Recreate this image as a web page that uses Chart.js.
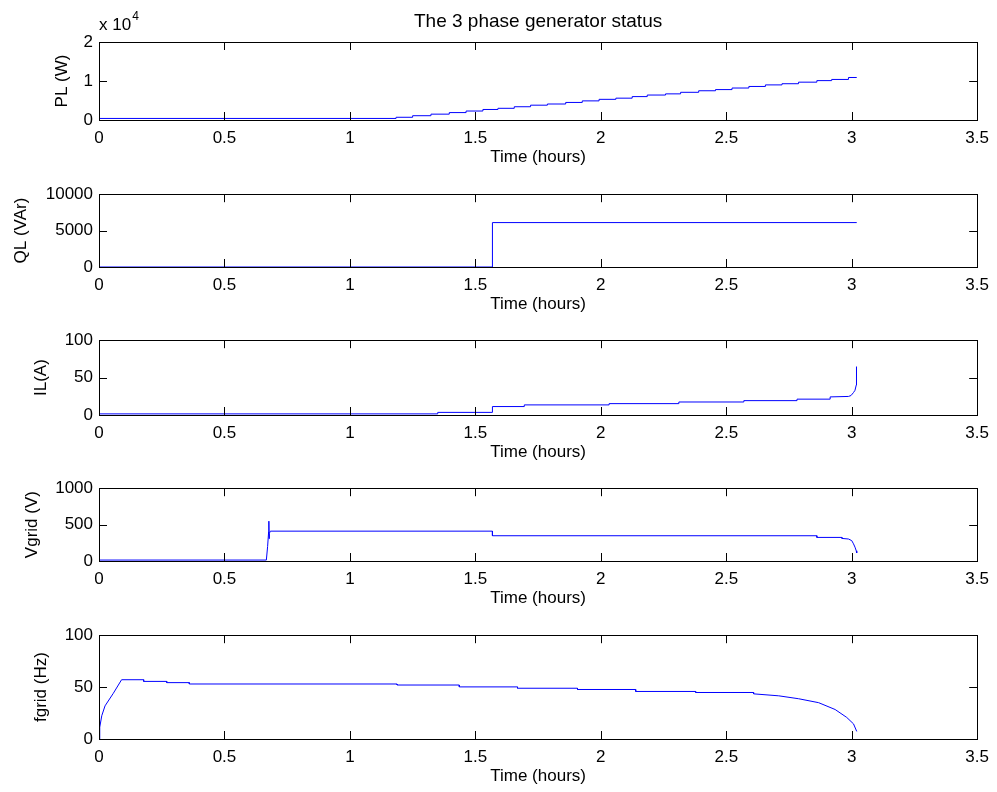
<!DOCTYPE html>
<html>
<head>
<meta charset="utf-8">
<script src="https://cdn.jsdelivr.net/npm/chart.js@4.4.0/dist/chart.umd.min.js"></script>
<style>
  body { margin: 0; background: #fff; }
  #fig { position: relative; width: 997px; height: 792px; }
  .pane { position: absolute; left: 0; width: 997px; }
</style>
</head>
<body>
<div id="fig"></div>
<script>
/*
  3 phase generator status : five stacked panels sharing the time axis
*/

// shared time axis (hours)
var timeTicks = [0, 0.5, 1, 1.5, 2, 2.5, 3, 3.5];

// PL (W) - load power, stair steps (value starts at given time)
var plTime  = [0, 1.184, 1.25, 1.323, 1.396, 1.463, 1.53, 1.59, 1.655, 1.72, 1.787, 1.86, 1.926, 1.993, 2.06, 2.125, 2.185, 2.258, 2.318, 2.39, 2.457, 2.523, 2.59, 2.656, 2.722, 2.788, 2.861, 2.92, 2.987, 3.02];
var plWatts = [400, 700, 1100, 1500, 1900, 2300, 2700, 3000, 3400, 3800, 4100, 4500, 4900, 5300, 5600, 6000, 6400, 6700, 7100, 7500, 7800, 8200, 8600, 9000, 9300, 9700, 10100, 10400, 10900, 10900];
var plTicks = [0, 10000, 20000];

// QL (VAr) - reactive load, one step
var qlTime = [0, 1.568, 3.02];
var qlVar  = [0, 6100, 6100];
var qlTicks = [0, 5000, 10000];

// IL (A) - line current
var ilTime = [0, 1.35, 1.35, 1.568, 1.568, 1.695, 1.695, 2.033, 2.033, 2.311, 2.311, 2.57, 2.57, 2.782, 2.782, 2.914, 2.914, 2.987, 2.997, 3.007, 3.013, 3.018, 3.019];
var ilAmps = [1.5, 1.5, 3.5, 3.5, 11.3, 11.3, 13.5, 13.5, 15.2, 15.2, 17.4, 17.4, 19.2, 19.2, 21.2, 21.2, 24.2, 24.8, 26, 30, 33, 40, 64.8];
var ilTicks = [0, 50, 100];

// Vgrid (V)
var vTime  = [0, 0.667, 0.672, 0.676, 0.677, 0.678, 0.679, 0.683, 1.568, 1.568, 2.861, 2.861, 2.961, 2.961, 2.987, 3.0, 3.007, 3.013, 3.018, 3.02];
var vVolts = [13, 13, 200, 400, 547, 307, 380, 410, 410, 347, 347, 324, 324, 310, 302, 280, 236, 190, 140, 110];
var vTicks = [0, 500, 1000];

// fgrid (Hz)
var fTime = [0, 0.003, 0.011, 0.024, 0.057, 0.09, 0.178, 0.178, 0.27, 0.27, 0.36, 0.36, 1.188, 1.188, 1.436, 1.436, 1.668, 1.668, 1.907, 1.907, 2.139, 2.139, 2.378, 2.378, 2.609, 2.609, 2.709, 2.788, 2.868, 2.934, 2.98, 3.007, 3.02];
var fHz   = [0, 11.4, 22.4, 31.9, 44.0, 57.1, 57.1, 55.5, 55.5, 54.3, 54.3, 53.0, 53.0, 52.0, 52.0, 50.2, 50.2, 48.9, 48.9, 47.7, 47.7, 45.8, 45.8, 44.8, 44.8, 43.5, 41.6, 38.8, 35.0, 28.4, 20.8, 14.6, 7.3];
var fTicks = [0, 50, 100];

var FONT = "'Liberation Sans', Arial, Helvetica, sans-serif";
var TICK_LEN = 8;
var LINE_COLOR = '#0000ff';

Chart.defaults.font.family = FONT;
Chart.defaults.font.size = 17;
Chart.defaults.color = '#000';

// inward ticks on all four sides + black box, like MATLAB axes
var matlabBox = {
  id: 'matlabBox',
  afterDatasetsDraw: function (chart) {
    var ctx = chart.ctx, a = chart.chartArea;
    var xs = chart.scales.x, ys = chart.scales.y;
    ctx.save();
    ctx.strokeStyle = '#000';
    ctx.lineWidth = 1;
    ctx.beginPath();
    xs.ticks.forEach(function (t) {
      var px = Math.round(xs.getPixelForValue(t.value)) + 0.5;
      ctx.moveTo(px, a.top); ctx.lineTo(px, a.top + TICK_LEN);
      ctx.moveTo(px, a.bottom); ctx.lineTo(px, a.bottom - TICK_LEN);
    });
    ys.ticks.forEach(function (t) {
      var py = Math.round(ys.getPixelForValue(t.value)) + 0.5;
      ctx.moveTo(a.left, py); ctx.lineTo(a.left + TICK_LEN, py);
      ctx.moveTo(a.right, py); ctx.lineTo(a.right - TICK_LEN, py);
    });
    ctx.stroke();
    ctx.strokeRect(Math.round(a.left) + 0.5, Math.round(a.top) + 0.5,
                   Math.round(a.right - a.left), Math.round(a.bottom - a.top));
    ctx.restore();
  }
};

// figure title and the x 10^4 multiplier, first panel only
var figureText = {
  id: 'figureText',
  afterDraw: function (chart) {
    var ctx = chart.ctx, a = chart.chartArea;
    ctx.save();
    ctx.fillStyle = '#000';
    ctx.textBaseline = 'alphabetic';
    ctx.font = '19px ' + FONT;
    ctx.textAlign = 'center';
    ctx.fillText('The 3 phase generator status', (a.left + a.right) / 2, 27);
    ctx.textAlign = 'left';
    ctx.font = '17px ' + FONT;
    ctx.fillText('x 10', a.left, 30);
    var w = ctx.measureText('x 10').width;
    ctx.font = '12px ' + FONT;
    ctx.fillText('4', a.left + w + 1, 20);
    ctx.restore();
  }
};

function toPoints(xs, ys) {
  return xs.map(function (x, i) { return { x: x, y: ys[i] }; });
}

function makeTicks(list) {
  return function (scale) {
    scale.ticks = list.map(function (v) { return { value: v }; });
  };
}

/*
  panel layout : plot top / height in page pixels, padTop = room above the plot
  inside the canvas, labelX = centre of the y title
*/
var panels = [
  { top: 42,  height: 78,  padTop: 42, label: 'PL (W)',      labelX: 62, time: plTime, vals: plWatts, ticks: plTicks, stepped: true, scaleDiv: 10000, extra: [figureText] },
  { top: 192, height: 75,  padTop: 14, label: 'QL (VAr)',    labelX: 21, time: qlTime, vals: qlVar,   ticks: qlTicks, stepped: true },
  { top: 338, height: 77,  padTop: 14, label: 'IL(A)',       labelX: 41, time: ilTime, vals: ilAmps,  ticks: ilTicks, stepped: false },
  { top: 486, height: 75,  padTop: 14, label: 'Vgrid (V)',   labelX: 32, time: vTime,  vals: vVolts,  ticks: vTicks,  stepped: false },
  { top: 633, height: 106, padTop: 14, label: 'fgrid (Hz)',  labelX: 41, time: fTime,  vals: fHz,     ticks: fTicks,  stepped: false }
];

var X_AXIS_H = 50;
var Y_AXIS_W = 99;
var fig = document.getElementById('fig');

panels.forEach(function (p, i) {
  var div = document.createElement('div');
  div.className = 'pane';
  div.style.top = (p.top - p.padTop) + 'px';
  div.style.height = (p.padTop + p.height + X_AXIS_H) + 'px';
  var canvas = document.createElement('canvas');
  canvas.id = 'panel-' + i;
  div.appendChild(canvas);
  fig.appendChild(div);

  var yMin = p.ticks[0], yMax = p.ticks[p.ticks.length - 1];
  var div10 = p.scaleDiv || 1;

  new Chart(canvas.getContext('2d'), {
    type: 'line',
    data: {
      datasets: [{
        data: toPoints(p.time, p.vals),
        borderColor: LINE_COLOR,
        borderWidth: 1,
        pointRadius: 0,
        fill: false,
        tension: 0,
        stepped: p.stepped
      }]
    },
    options: {
      responsive: true,
      maintainAspectRatio: false,
      animation: false,
      events: [],
      layout: { padding: { top: p.padTop, right: 18, bottom: 0, left: 0 } },
      plugins: { legend: { display: false }, tooltip: { enabled: false } },
      scales: {
        x: {
          type: 'linear',
          min: 0, max: 3.5,
          afterBuildTicks: makeTicks(timeTicks),
          afterFit: function (s) { s.height = X_AXIS_H; },
          grid: { display: false, drawTicks: false },
          border: { display: false },
          ticks: { padding: 8, maxRotation: 0, autoSkip: false, color: '#000',
                   callback: function (v) { return String(v); } },
          title: { display: true, text: 'Time (hours)', color: '#000', padding: { top: 0, bottom: 2 } }
        },
        y: {
          type: 'linear',
          min: yMin, max: yMax,
          afterBuildTicks: makeTicks(p.ticks),
          afterFit: function (s) { s.width = Y_AXIS_W; },
          grid: { display: false, drawTicks: false },
          border: { display: false },
          ticks: { padding: 6, autoSkip: false, color: '#000',
                   callback: function (v) { return String(v / div10); } },
          title: { display: true, text: p.label, color: '#000', padding: { top: p.labelX - 10.2, bottom: 0 } }
        }
      }
    },
    plugins: [matlabBox].concat(p.extra || [])
  });
});
</script>
</body>
</html>
